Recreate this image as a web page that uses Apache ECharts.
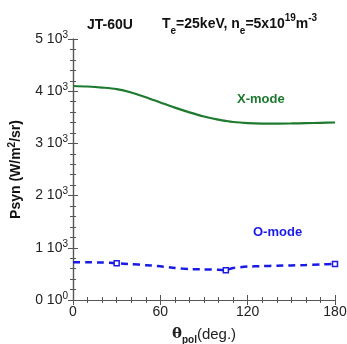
<!DOCTYPE html>
<html>
<head>
<meta charset="utf-8">
<script src="https://cdn.jsdelivr.net/npm/echarts@6/dist/echarts.min.js"></script>
<style>
  html, body { margin: 0; padding: 0; background: #fff; }
  #chart { width: 347px; height: 344px; }
</style>
</head>
<body>
<div id="chart"></div>
<script>
// Poloidal angle (deg.)
const theta = [0, 10, 20, 30, 40, 50, 60, 70, 80, 90, 100, 105, 110, 120, 130, 140, 150, 160, 170, 180];
// Synchrotron emission, X-mode (W/m^2/sr)
const xMode = [4100, 4090, 4070, 4040, 3975, 3885, 3785, 3685, 3595, 3515, 3455, 3430, 3410, 3390, 3380, 3378, 3382, 3388, 3394, 3400];
// Synchrotron emission, O-mode (W/m^2/sr)
const oMode = [722, 722, 718, 705, 688, 668, 645, 612, 592, 586, 580, 572, 615, 640, 650, 656, 662, 670, 680, 690];
// Angles at which O-mode markers are drawn
const oMarkAt = [30, 105, 180];
// Y tick labels as mantissa / exponent pairs
const yTickMant = ['0', '1', '2', '3', '4', '5'];
const yTickExp = ['0', '3', '3', '3', '3', '3'];

const GREEN = '#1d7a2e';
const BLUE = '#1a1ae6';
const AXIS = '#555';
const FONT = '"Liberation Sans", Arial, Helvetica, sans-serif';

const chart = echarts.init(document.getElementById('chart'));

const tickStyle = { show: true, inside: true, length: 5, lineStyle: { color: AXIS, width: 1 } };
const minorStyle = { show: true, length: 3, lineStyle: { color: AXIS, width: 1 } };

chart.setOption({
  animation: false,
  backgroundColor: '#fff',
  textStyle: { fontFamily: FONT },
  grid: { left: 73, top: 39, right: 12, bottom: 44, containLabel: false, outerBoundsMode: 'none' },
  title: [
    {
      text: 'JT-60U', left: 82, top: 13,
      textStyle: { fontFamily: FONT, fontSize: 14, fontWeight: 'bold', color: '#111' }
    },
    {
      text: 'T{sub|e}=25keV, n{sub|e}=5x10{sup|19}m{sup|-3}', left: 157, top: 8,
      textStyle: {
        fontFamily: FONT, fontSize: 14, fontWeight: 'bold', color: '#111',
        rich: {
          sub: { fontSize: 10, fontWeight: 'bold', verticalAlign: 'bottom', padding: [13, 0, 0, 0], fontFamily: FONT },
          sup: { fontSize: 10, fontWeight: 'bold', verticalAlign: 'top', padding: [0, 0, 8, 0], fontFamily: FONT }
        }
      }
    }
  ],
  xAxis: [
    {
      type: 'value', min: 0, max: 180, interval: 60, position: 'bottom',
      axisLine: { show: true, lineStyle: { color: AXIS, width: 1.2 } },
      axisTick: tickStyle, minorTick: Object.assign({ splitNumber: 6 }, minorStyle),
      splitLine: { show: false },
      axisLabel: { color: '#222', fontSize: 14, margin: 5, fontFamily: FONT },
      name: '{b|θ}{s|pol}(deg.)', nameLocation: 'middle', nameGap: 24,
      nameTextStyle: {
        color: '#222', fontSize: 15, fontFamily: FONT,
        rich: {
          b: { fontSize: 15, fontWeight: 'bold', fontFamily: 'DejaVu Serif, serif' },
          s: { fontSize: 10, fontWeight: 'bold', verticalAlign: 'bottom', padding: [11, 0, 0, 0], fontFamily: FONT }
        }
      }
    },
    {
      type: 'value', min: 0, max: 180, interval: 60, position: 'top',
      axisLine: { show: true, lineStyle: { color: AXIS, width: 1.2 } },
      axisTick: tickStyle, minorTick: Object.assign({ splitNumber: 6 }, minorStyle),
      splitLine: { show: false }, axisLabel: { show: false }
    }
  ],
  yAxis: [
    {
      type: 'value', min: 0, max: 5000, interval: 1000, position: 'left',
      axisLine: { show: true, lineStyle: { color: AXIS, width: 1.2 } },
      axisTick: tickStyle, minorTick: Object.assign({ splitNumber: 5 }, minorStyle),
      splitLine: { show: false },
      axisLabel: {
        color: '#222', fontSize: 14, margin: 5, fontFamily: FONT,
        formatter: function (v) {
          const i = Math.round(v / 1000);
          return yTickMant[i] + ' 10{sup|' + yTickExp[i] + '}';
        },
        rich: {
          sup: { fontSize: 10, verticalAlign: 'top', padding: [0, 0, 8, 0], fontFamily: FONT, color: '#222' }
        }
      },
      name: 'Psyn (W/m{sup|2}/sr)', nameLocation: 'middle', nameGap: 48, nameRotate: 90,
      nameTextStyle: {
        color: '#111', fontSize: 14, fontWeight: 'bold', fontFamily: FONT,
        rich: {
          sup: { fontSize: 10, fontWeight: 'bold', verticalAlign: 'top', padding: [0, 0, 8, 0], fontFamily: FONT }
        }
      }
    },
    {
      type: 'value', min: 0, max: 5000, interval: 1000, position: 'right',
      axisLine: { show: true, lineStyle: { color: AXIS, width: 1.2 } },
      axisTick: tickStyle, minorTick: Object.assign({ splitNumber: 5 }, minorStyle),
      splitLine: { show: false }, axisLabel: { show: false }
    }
  ],
  graphic: [
    {
      type: 'text', left: 237, top: 93,
      style: { text: 'X-mode', fill: GREEN, font: 'bold 13px ' + FONT }
    },
    {
      type: 'text', left: 253, top: 226,
      style: { text: 'O-mode', fill: BLUE, font: 'bold 13px ' + FONT }
    }
  ],
  series: [
    {
      name: 'X-mode', type: 'line', smooth: 0.3,
      data: theta.map((t, i) => [t, xMode[i]]),
      showSymbol: false, symbol: 'none',
      lineStyle: { color: GREEN, width: 2.2 }
    },
    {
      name: 'O-mode', type: 'line', smooth: 0.2,
      data: theta.map((t, i) => {
        const shown = oMarkAt.indexOf(t) >= 0;
        return { value: [t, oMode[i]], symbol: shown ? 'rect' : 'none', symbolSize: 5 };
      }),
      showSymbol: true,
      itemStyle: { color: '#fff', borderColor: BLUE, borderWidth: 1.5 },
      lineStyle: { color: BLUE, width: 2.5, type: [7, 5] }
    }
  ]
});
</script>
</body>
</html>
